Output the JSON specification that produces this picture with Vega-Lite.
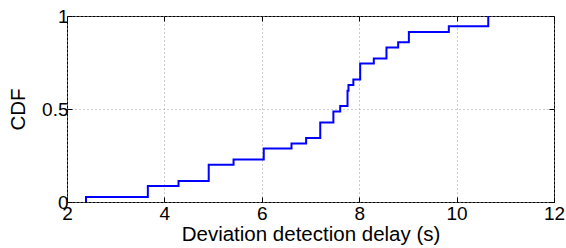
{
  "$schema": "https://vega.github.io/schema/vega-lite/v6.json",
  "width": 487,
  "height": 186,
  "autosize": "none",
  "padding": {"left": 67, "top": 16, "right": 12, "bottom": 46},
  "background": "white",
  "config": {
    "view": {"stroke": "black", "strokeWidth": 1},
    "font": "Liberation Sans",
    "axis": {
      "labelFont": "Liberation Sans",
      "titleFont": "Liberation Sans",
      "labelFontSize": 19,
      "titleFontSize": 20.5,
      "titleFontWeight": "normal",
      "labelColor": "black",
      "titleColor": "black",
      "domain": false,
      "tickColor": "black",
      "tickSize": -5,
      "gridColor": "#999999",
      "gridDash": [1, 3],
      "gridOpacity": 1,
      "gridWidth": 1
    }
  },
  "data": {
    "values": [
      {"delay": 2.39, "cdf": 0},
      {"delay": 2.39, "cdf": 0.027},
      {"delay": 3.66, "cdf": 0.086},
      {"delay": 4.29, "cdf": 0.113},
      {"delay": 4.91, "cdf": 0.2},
      {"delay": 5.42, "cdf": 0.229},
      {"delay": 6.04, "cdf": 0.287},
      {"delay": 6.61, "cdf": 0.314},
      {"delay": 6.91, "cdf": 0.344},
      {"delay": 7.2, "cdf": 0.428},
      {"delay": 7.47, "cdf": 0.486},
      {"delay": 7.61, "cdf": 0.516},
      {"delay": 7.76, "cdf": 0.598},
      {"delay": 7.78, "cdf": 0.629},
      {"delay": 7.88, "cdf": 0.658},
      {"delay": 8.02, "cdf": 0.744},
      {"delay": 8.3, "cdf": 0.771},
      {"delay": 8.56, "cdf": 0.83},
      {"delay": 8.8, "cdf": 0.859},
      {"delay": 9.02, "cdf": 0.914},
      {"delay": 9.84, "cdf": 0.945},
      {"delay": 10.65, "cdf": 1.0}
    ]
  },
  "layer": [
    {
      "mark": {"type": "line", "interpolate": "step-after", "color": "#0000ff", "strokeWidth": 2},
      "encoding": {
        "x": {
          "field": "delay", "type": "quantitative",
          "scale": {"domain": [2, 12], "nice": false, "zero": false},
          "axis": {"values": [2, 4, 6, 8, 10, 12], "title": "Deviation detection delay (s)", "labelPadding": 7, "titlePadding": 1, "labelFlush": false}
        },
        "y": {
          "field": "cdf", "type": "quantitative",
          "scale": {"domain": [0, 1], "nice": false},
          "axis": {"values": [0, 0.5, 1], "format": "~g", "title": "CDF", "labelPadding": 4, "titlePadding": 13, "labelFlush": false}
        }
      }
    },
    {
      "mark": {"type": "point", "opacity": 0},
      "encoding": {
        "x": {
          "field": "delay", "type": "quantitative",
          "scale": {"domain": [2, 12], "nice": false, "zero": false},
          "axis": {"orient": "top", "values": [2, 4, 6, 8, 10, 12], "labels": false, "title": null, "grid": false}
        },
        "y": {
          "field": "cdf", "type": "quantitative",
          "scale": {"domain": [0, 1], "nice": false},
          "axis": {"orient": "right", "values": [0, 0.5, 1], "labels": false, "title": null, "grid": false}
        }
      }
    }
  ],
  "resolve": {"axis": {"x": "independent", "y": "independent"}}
}
